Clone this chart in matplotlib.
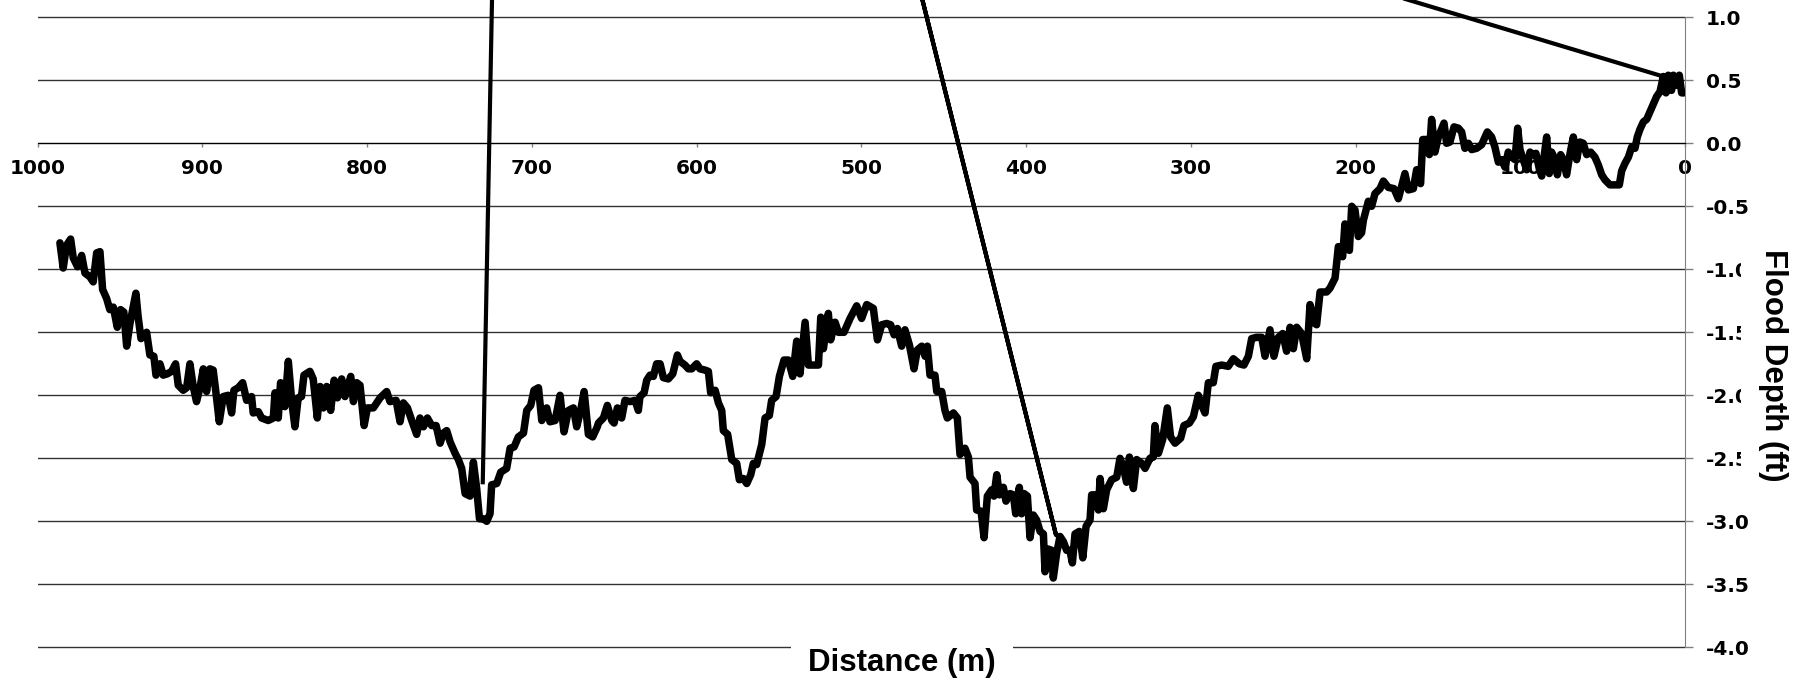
import matplotlib
matplotlib.use('Agg')
import matplotlib.pyplot as plt

plt.rcParams['font.family'] = ['DejaVu Sans']
plt.rcParams['font.weight'] = 'bold'
plt.rcParams['axes.unicode_minus'] = False

# flood depth profile along the transect (distance in m, depth in ft)
dist = [
    # 1000 - 830 m
    986.4, 984.4, 982.4, 979.9, 978.3, 975.7, 973.2, 971.2, 968.2, 966.2,
    964.1, 962.1, 960.5, 958.1, 956.1, 954.0, 951.6, 949.6, 947.6, 945.9,
    943.9, 940.3, 938.9, 937.2, 933.8, 931.8, 929.4, 928.1, 925.7, 923.7,
    921.3, 918.6, 916.2, 914.6, 911.6, 909.5, 907.5, 905.5, 903.5, 901.4,
    899.4, 897.4, 895.4, 893.4, 891.7, 889.7, 887.3, 884.3, 882.2, 880.8,
    878.2, 875.5, 873.1, 870.1, 869.1, 866.0, 864.0, 860.0, 856.9, 855.9,
    853.9, 852.5, 849.9, 847.8, 845.8, 843.8, 841.8, 839.8, 838.3, 834.7,
    832.7, 830.2,
    # 830 - 660 m
    828.5, 826.5, 824.5, 822.1, 820.0, 818.0, 815.4, 813.4, 809.9, 808.3,
    806.3, 804.3, 801.8, 799.8, 796.2, 792.1, 788.1, 786.1, 782.4, 780.0,
    778.0, 775.5, 772.9, 769.9, 767.9, 765.8, 763.4, 760.8, 758.1, 755.7,
    753.7, 751.7, 749.6, 746.6, 744.6, 742.6, 740.5, 737.5, 735.5, 733.5,
    731.8, 729.4, 727.4, 725.4, 724.4, 721.3, 718.9, 715.3, 713.2, 710.8,
    708.2, 705.1, 703.1, 700.7, 698.7, 696.0, 694.0, 691.0, 689.0, 685.9,
    682.9, 680.5, 677.8, 674.8, 672.8, 670.4, 668.3, 665.7, 663.1, 660.3,
    # 660 - 490 m
    659.6, 656.6, 654.2, 651.5, 650.1, 648.1, 645.5, 643.5, 640.4, 637.4,
    635.4, 634.4, 631.9, 630.3, 628.3, 626.3, 624.3, 622.2, 620.2, 617.2,
    614.5, 611.7, 610.1, 607.1, 605.0, 603.0, 600.0, 598.0, 594.9, 592.9,
    591.5, 588.8, 586.8, 584.8, 583.8, 581.2, 578.7, 575.7, 574.1, 571.7,
    569.6, 567.2, 565.6, 563.6, 560.5, 558.5, 555.9, 554.5, 551.8, 549.8,
    547.0, 544.4, 541.7, 539.3, 537.3, 534.2, 532.2, 530.2, 526.1, 524.7,
    523.1, 520.1, 518.7, 516.0, 514.0, 510.6, 506.9, 502.9, 499.9, 496.8,
    492.8, 490.3,
    # 490 - 320 m
    487.7, 484.7, 482.3, 480.2, 478.2, 475.6, 473.6, 470.9, 468.1, 466.1,
    463.4, 461.4, 460.0, 458.4, 455.4, 454.3, 451.3, 449.3, 447.9, 444.2,
    441.8, 440.2, 437.2, 435.1, 434.1, 431.1, 430.1, 427.4, 425.6, 423.6,
    421.0, 419.6, 417.9, 416.3, 413.9, 412.3, 409.8, 407.8, 406.4, 404.2,
    402.8, 401.3, 399.3, 397.7, 395.7, 393.7, 391.6, 389.6, 388.6, 386.6,
    384.6, 383.6, 381.5, 379.5, 377.5, 375.5, 373.5, 372.0, 370.4, 367.8,
    365.7, 363.7, 361.3, 360.3, 357.7, 356.2, 355.2, 353.2, 351.2, 348.2,
    345.1, 343.1, 341.1, 339.1, 337.4, 335.0, 333.0, 329.9, 327.9, 324.9,
    322.9, 321.9, 319.8,
    # 320 - 150 m
    317.2, 314.4, 312.4, 309.7, 306.3, 304.3, 301.0, 298.6, 295.6, 293.5,
    291.5, 289.5, 286.5, 284.9, 281.4, 277.4, 274.3, 270.7, 267.9, 265.2,
    263.2, 260.2, 257.1, 255.1, 252.1, 249.7, 247.0, 244.4, 242.0, 239.9,
    237.9, 235.9, 232.9, 229.8, 227.8, 224.8, 223.8, 221.7, 217.7, 215.7,
    212.6, 210.6, 208.0, 206.6, 203.9, 202.5, 200.5, 198.5, 196.5, 195.4,
    192.4, 190.4, 188.4, 185.3, 183.3, 180.3, 176.8, 174.2, 172.2, 170.2,
    168.1, 165.1, 163.1, 160.7, 159.4, 157.0, 155.4, 154.0, 152.0, 149.9,
    # 150 - 0 m
    146.5, 144.9, 142.9, 140.4, 137.8, 135.8, 133.8, 131.7, 129.7, 126.7,
    123.6, 120.2, 117.6, 115.6, 113.5, 111.5, 109.5, 107.5, 105.4, 103.4,
    101.8, 100.4, 98.4, 96.3, 94.3, 92.3, 90.7, 88.7, 87.2, 85.8,
    84.2, 82.6, 81.2, 79.1, 77.7, 75.7, 74.1, 72.1, 70.0, 68.0,
    66.0, 64.0, 62.0, 59.9, 57.5, 54.9, 52.9, 50.8, 48.8, 45.8,
    42.7, 40.1, 38.7, 36.7, 34.6, 32.6, 30.6, 29.2, 27.6, 25.5,
    23.5, 21.5, 19.1, 17.5, 15.4, 13.4, 11.8, 10.4, 8.4, 7.3,
    5.3, 3.7, 2.3, 0.9,
]
depth = [
    -0.79, -0.99, -0.81, -0.76, -0.91, -0.98, -0.89, -1.03, -1.06, -1.10,
    -0.87, -0.86, -1.16, -1.23, -1.32, -1.30, -1.46, -1.32, -1.34, -1.61,
    -1.43, -1.19, -1.38, -1.55, -1.50, -1.68, -1.69, -1.84, -1.75, -1.84,
    -1.83, -1.81, -1.75, -1.92, -1.96, -1.94, -1.75, -1.93, -2.05, -1.94,
    -1.79, -1.97, -1.79, -1.80, -1.98, -2.21, -2.01, -2.00, -2.14, -1.96,
    -1.94, -1.90, -2.04, -2.01, -2.14, -2.13, -2.18, -2.20, -2.18, -1.98,
    -2.18, -1.90, -2.09, -1.73, -2.04, -2.25, -2.02, -2.01, -1.84, -1.81,
    -1.87, -2.18,
    -1.93, -2.10, -1.93, -2.12, -1.88, -2.02, -1.87, -2.01, -1.85, -2.05,
    -1.90, -1.92, -2.24, -2.10, -2.10, -2.02, -1.97, -2.05, -2.04, -2.21,
    -2.06, -2.10, -2.20, -2.31, -2.18, -2.25, -2.18, -2.24, -2.24, -2.38,
    -2.30, -2.28, -2.37, -2.46, -2.51, -2.58, -2.78, -2.80, -2.53, -2.74,
    -2.98, -2.98, -3.00, -2.94, -2.71, -2.70, -2.61, -2.58, -2.42, -2.41,
    -2.33, -2.30, -2.12, -2.08, -1.96, -1.94, -2.20, -2.10, -2.21, -2.20,
    -2.00, -2.29, -2.12, -2.10, -2.25, -2.12, -1.97, -2.31, -2.33, -2.25,
    -2.22, -2.18, -2.08, -2.20, -2.22, -2.10, -2.18, -2.04, -2.05, -2.04,
    -2.12, -2.01, -1.98, -1.88, -1.84, -1.85, -1.75, -1.75, -1.86, -1.87,
    -1.83, -1.68, -1.73, -1.76, -1.79, -1.79, -1.75, -1.79, -1.80, -1.81,
    -1.98, -1.96, -2.06, -2.12, -2.28, -2.31, -2.51, -2.54, -2.67, -2.66,
    -2.70, -2.63, -2.54, -2.55, -2.39, -2.18, -2.16, -2.04, -2.01, -1.85,
    -1.72, -1.72, -1.85, -1.57, -1.83, -1.42, -1.76, -1.76, -1.76, -1.38,
    -1.63, -1.35, -1.56, -1.42, -1.50, -1.50, -1.39, -1.29, -1.39, -1.28,
    -1.31, -1.56,
    -1.44, -1.43, -1.44, -1.52, -1.47, -1.61, -1.48, -1.60, -1.79, -1.64,
    -1.61, -1.69, -1.61, -1.84, -1.84, -1.97, -1.97, -2.12, -2.18, -2.14,
    -2.18, -2.47, -2.42, -2.49, -2.65, -2.70, -2.91, -2.92, -3.13, -2.80,
    -2.75, -2.80, -2.63, -2.79, -2.73, -2.84, -2.78, -2.79, -2.94, -2.73,
    -2.94, -2.78, -2.80, -3.13, -2.95, -2.99, -3.08, -3.10, -3.40, -3.22,
    -3.23, -3.45, -3.25, -3.12, -3.16, -3.23, -3.23, -3.33, -3.10, -3.08,
    -3.29, -3.04, -2.99, -2.79, -2.79, -2.91, -2.66, -2.90, -2.75, -2.67,
    -2.65, -2.50, -2.57, -2.69, -2.49, -2.74, -2.51, -2.54, -2.58, -2.50,
    -2.49, -2.24, -2.46,
    -2.35, -2.10, -2.33, -2.38, -2.34, -2.24, -2.22, -2.17, -2.00, -2.08,
    -2.14, -1.90, -1.90, -1.77, -1.76, -1.77, -1.71, -1.75, -1.76, -1.69,
    -1.55, -1.54, -1.54, -1.69, -1.48, -1.69, -1.54, -1.51, -1.65, -1.46,
    -1.63, -1.46, -1.51, -1.71, -1.28, -1.43, -1.44, -1.18, -1.18, -1.15,
    -1.07, -0.82, -0.90, -0.64, -0.85, -0.50, -0.53, -0.74, -0.71, -0.61,
    -0.46, -0.50, -0.40, -0.36, -0.30, -0.35, -0.36, -0.44, -0.34, -0.24,
    -0.37, -0.36, -0.21, -0.32, 0.03, 0.03, -0.09, 0.19, -0.07, 0.05,
    0.16, 0.00, 0.01, 0.13, 0.12, 0.09, -0.04, 0.00, -0.05, -0.04,
    -0.01, 0.09, 0.05, -0.03, -0.15, -0.13, -0.19, -0.07, -0.11, -0.13,
    0.12, -0.05, -0.13, -0.21, -0.07, -0.09, -0.08, -0.20, -0.26, -0.11,
    0.05, -0.24, -0.07, -0.13, -0.25, -0.09, -0.13, -0.25, -0.08, 0.05,
    -0.13, 0.01, 0.00, -0.09, -0.07, -0.11, -0.17, -0.25, -0.29, -0.33,
    -0.33, -0.33, -0.22, -0.16, -0.11, -0.03, -0.04, 0.05, 0.11, 0.17,
    0.19, 0.25, 0.32, 0.37, 0.41, 0.53, 0.40, 0.54, 0.42, 0.54,
    0.46, 0.54, 0.40, 0.40,
]

# second (thin) series, mostly running off the top of the chart
ref_dist = [729.8, 705.6, 381.9, 486.9, 13.4]
ref_depth = [-2.69, 13.84, -3.11, 2.39, 0.53]

x_ticks = [0, 100, 200, 300, 400, 500, 600, 700, 800, 900, 1000]
y_ticks = [-4.0, -3.5, -3.0, -2.5, -2.0, -1.5, -1.0, -0.5, 0.0, 0.5, 1.0]

fig = plt.figure(figsize=(17.97, 6.87), dpi=100)
ax = fig.add_axes([0.02087, 0.0559, 0.91703, 0.9441])

ax.plot(dist, depth, color='black', lw=5.4, solid_joinstyle='round',
        solid_capstyle='round', zorder=3)
ax.plot(ref_dist, ref_depth, color='black', lw=3.0, zorder=3)

ax.set_xlim(1000, 0)
ax.set_ylim(-4.01, 1.137)
ax.set_axisbelow(True)
# x axis (and its boxed title) above the y gridlines, still under the data
ax.xaxis.set_zorder(1)

ax.set_xticks(x_ticks)
ax.set_xticklabels([str(v) for v in x_ticks])
ax.set_yticks(y_ticks)
ax.set_yticklabels(['%.1f' % v for v in y_ticks])
ax.yaxis.grid(True, color='#333333', lw=1)

ax.spines['left'].set_visible(False)
ax.spines['top'].set_visible(False)
ax.spines['right'].set_bounds(-4, 1)
ax.spines['right'].set_color('#808080')
ax.spines['bottom'].set_position(('data', 0))
ax.spines['bottom'].set_color('black')

ax.yaxis.tick_right()
ax.tick_params(axis='y', direction='out', length=5.8, width=1, color='#808080',
               pad=9, labelsize=14.5)
ax.tick_params(axis='x', direction='out', length=3, width=1, color='#808080',
               pad=8, labelsize=14.5)

box = dict(facecolor='white', edgecolor='none', boxstyle='square,pad=0.55')
ax.set_xlabel('Distance (m)', fontsize=22.5, fontfamily='Liberation Sans',
              fontweight='bold', bbox=box, ha='center', va='center')
ax.xaxis.set_label_coords(0.5246, -0.022)

ax.yaxis.set_label_position('right')
# the white box of the y title cuts off the ends of the tick labels beside it
ybox = dict(facecolor='white', edgecolor='none', boxstyle='square,pad=0.55')
ax.set_ylabel('Flood Depth (ft)', fontsize=22.5, fontfamily='Liberation Sans',
              fontweight='bold', rotation=-90, bbox=ybox, ha='center', va='center')
ax.yaxis.set_label_coords(1.0532, 0.4373)

fig.savefig('out.png', dpi=100)
